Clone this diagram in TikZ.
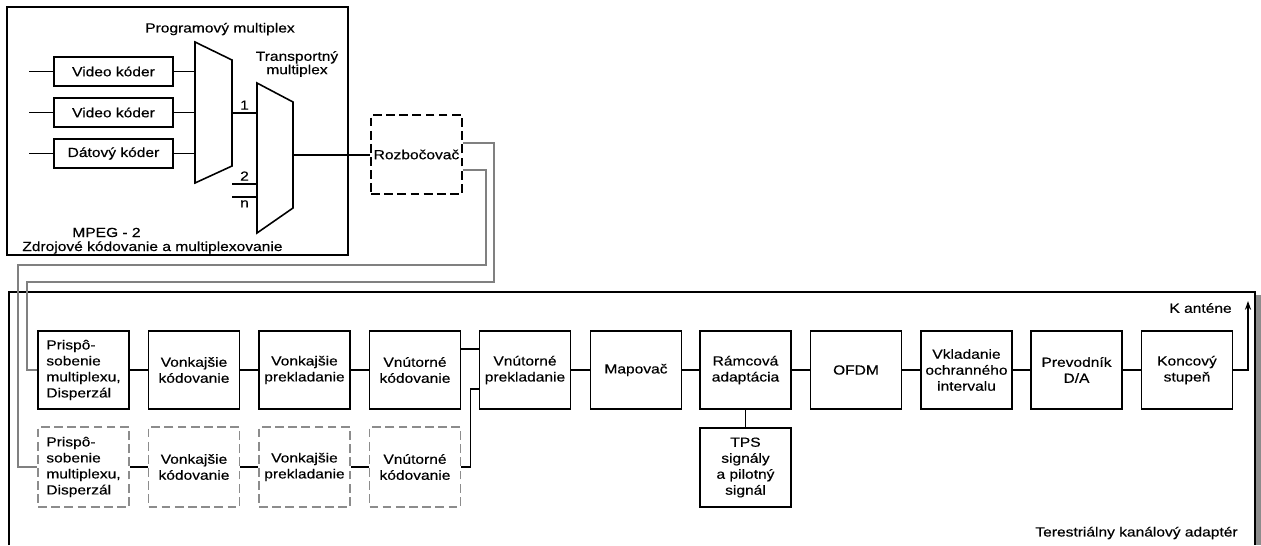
\documentclass[tikz,border=0pt]{standalone}
\usepackage{fontspec}
\setmainfont{Liberation Sans}[FakeStretch=1.18,FakeBold=0.4]
\usetikzlibrary{arrows.meta,calc}
\begin{document}
\begin{tikzpicture}[x=0.02cm,y=-0.02cm,
  every node/.style={font=\fontsize{7.5}{9.1}\selectfont},
  blok/.style={draw,line width=0.9pt,minimum width=1.82cm,minimum height=1.56cm,inner sep=0pt,align=center},
  koder/.style={draw,line width=0.9pt,minimum width=2.38cm,minimum height=0.58cm,inner sep=0pt},
  zaloha/.style={blok,draw=black!45,dash pattern=on 5pt off 2.5pt,minimum height=1.6cm},
  popis/.style={inner sep=0pt},
  spoj/.style={line width=0.8pt},
  vetva/.style={line width=1pt,black!50}]
\useasboundingbox (0,0) rectangle (1261,545);
% zdrojove kodovanie
\draw[line width=0.9pt] (7,7) rectangle (348,255);
\node[koder] (v1) at (113.5,71.5) {Video kóder};
\node[koder] (v2) at (113.5,112.5) {Video kóder};
\node[koder] (v3) at (113.5,153.5) {Dátový kóder};
\draw[spoj] (v1.west) -- ++(-24,0);
\draw[spoj] (v2.west) -- ++(-24,0);
\draw[spoj] (v3.west) -- ++(-24,0);
\draw[spoj] (v1.east) -- ++(22,0);
\draw[spoj] (v2.east) -- ++(22,0);
\draw[spoj] (v3.east) -- ++(22,0);
\draw[line width=0.9pt] (195,42) -- (232,60) -- (232,166) -- (195,183) -- cycle;
\draw[line width=0.9pt] (257,83) -- (293,102) -- (293,208) -- (257,233) -- cycle;
\coordinate (pmout) at (232,113);
\coordinate (tmin1) at (257,113);
\coordinate (tmin2) at (257,184);
\coordinate (tmin3) at (257,197);
\coordinate (tmout) at (293,155);
\draw[spoj] (pmout) -- node[above,inner sep=1.5pt] {1} (tmin1);
\draw[spoj] (tmin2) -- node[above,inner sep=1.5pt] {2} ++(-25,0);
\draw[spoj] (tmin3) -- node[below,inner sep=1.5pt] {n} ++(-25,0);
\node (pmnazov) at (220,29) {Programový multiplex};
\node[align=center,font=\fontsize{7.5}{7.6}\selectfont] (tmnazov) at (297,64) {Transportný\\multiplex};
\node[popis,anchor=base west] (mpeg) at (72,237) {MPEG - 2};
\node[popis,anchor=base west] (zdroj) at (22,251) {Zdrojové kódovanie a multiplexovanie};
% rozbocovac
\node[draw,dash pattern=on 5pt off 2.5pt,line width=0.9pt,minimum width=1.82cm,minimum height=1.58cm,inner sep=0pt] (rozb) at (416.5,154.5) {Rozbočovač};
\draw[spoj] (tmout) -- (rozb.west |- tmout);
\coordinate (r1) at ($(rozb.east)+(0,-11.5)$);
\coordinate (r2) at ($(rozb.east)+(0,15.5)$);
% kanalovy adapter
\draw[line width=0.9pt] (9,545) |- (1255,292) -- (1255,545);
\fill[black!45] (1256,295) rectangle (1261,545);
\node[blok,align=left] (b1) at (83.5,370) {Prispô-\\sobenie\\multiplexu,\\Disperzál};
\node[blok] (b2) at (194,370) {Vonkajšie\\kódovanie};
\node[blok] (b3) at (304.5,370) {Vonkajšie\\prekladanie};
\node[blok] (b4) at (415,370) {Vnútorné\\kódovanie};
\node[blok] (b5) at (525,370) {Vnútorné\\prekladanie};
\node[blok] (b6) at (636,370) {Mapovač};
\node[blok] (b7) at (745.5,370) {Rámcová\\adaptácia};
\node[blok] (b8) at (856,370) {OFDM};
\node[blok] (b9) at (966.5,370) {Vkladanie\\ochranného\\intervalu};
\node[blok] (b10) at (1076.5,370) {Prevodník\\D/A};
\node[blok] (b11) at (1187,370) {Koncový\\stupeň};
\node[zaloha,align=left] (d1) at (83.5,467) {Prispô-\\sobenie\\multiplexu,\\Disperzál};
\node[zaloha] (d2) at (194,467) {Vonkajšie\\kódovanie};
\node[zaloha] (d3) at (304.5,467) {Vonkajšie\\prekladanie};
\node[zaloha] (d4) at (415,467) {Vnútorné\\kódovanie};
\node[blok,minimum height=1.58cm] (tps) at (745.5,467.5) {TPS\\signály\\a pilotný\\signál};
\draw[vetva] (r1) -| (494,282) -| (27,370) -- (b1.west);
\draw[vetva] (r2) -| (486,265) -| (18,467) -- (d1.west);
\draw[spoj] (b1) -- (b2);
\draw[spoj] (b2) -- (b3);
\draw[spoj] (b3) -- (b4);
\coordinate (in1) at ($(b5.west)+(0,-21)$);
\coordinate (in2) at ($(b5.west)+(0,19)$);
\draw[spoj] (b4.east |- in1) -- (in1);
\draw[spoj] (d4.east) -- ++(9,0) |- (in2);
\draw[spoj] (b5) -- (b6);
\draw[spoj] (b6) -- (b7);
\draw[spoj] (b7) -- (b8);
\draw[spoj] (b8) -- (b9);
\draw[spoj] (b9) -- (b10);
\draw[spoj] (b10) -- (b11);
\draw[spoj] (b7) -- (tps);
\draw[spoj] (d1) -- (d2);
\draw[spoj] (d2) -- (d3);
\draw[spoj] (d3) -- (d4);
\coordinate (antena) at (1248,301);
\draw[spoj,-{Stealth[length=5pt,width=3.5pt]}] (b11.east) -| (antena);
\node[popis,anchor=east] (kant) at (1232,308) {K anténe};
\node[popis,anchor=east] (teres) at (1238,533) {Terestriálny kanálový adaptér};
\end{tikzpicture}
\end{document}
